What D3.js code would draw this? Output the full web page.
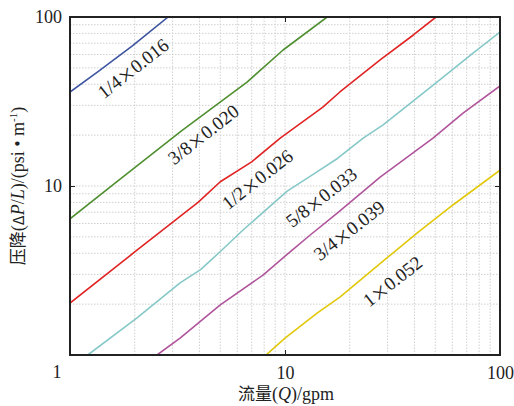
<!DOCTYPE html>
<html>
<head>
<meta charset="utf-8">
<script src="https://cdn.jsdelivr.net/npm/d3@7"></script>
<style>
  body { margin: 0; background: #fff; }
</style>
</head>
<body>
<div id="chart"></div>
<script>
// series names and their read-off curves (flow gpm, pressure drop psi/m)
var seriesNames = ["1/4", "3/8", "1/2", "5/8", "3/4", "1"];
var seriesFactor = ["0.016", "0.020", "0.026", "0.033", "0.039", "0.052"];
var seriesColors = ["#3d54a0", "#4f8f30", "#e02424", "#86c8c8", "#b0559c", "#e2c80a"];

var s14 = [[1, 36], [1.35, 47.5], [1.95, 67.5], [2.86, 100]];
var s38 = [[1, 6.4], [1.62, 10.4], [3.3, 21.2], [6.66, 41.2], [9.8, 63.8], [15.7, 100]];
var s12 = [[1, 2.03], [2, 4.07], [3.94, 8.0], [5, 10.6], [7, 13.9], [9.5, 19.2],
           [15, 29.3], [18, 36], [27.7, 55.7], [39.4, 78], [50.4, 100]];
var s58 = [[1.21, 1], [2.05, 1.66], [3.25, 2.67], [4.05, 3.2], [5.09, 4.18], [6.38, 5.49],
           [10.2, 9.3], [14.2, 12.2], [17.6, 14.6], [23.1, 19.2], [28.6, 23], [50.9, 41.2],
           [74.9, 61.2], [100, 81.5]];
var s34 = [[2.54, 1], [3.25, 1.26], [5, 1.98], [7.9, 2.97], [10.8, 4.18], [13.1, 5.13],
           [17.5, 6.92], [27.7, 11.3], [39.4, 15.7], [48.8, 19.2], [67.3, 27], [100, 39.1]];
var s1 = [[8.16, 1], [10, 1.26], [14.1, 1.77], [18, 2.2], [29.8, 3.75], [41.1, 5.27],
          [60.4, 7.72], [100, 12.4]];
var seriesValues = [s14, s38, s12, s58, s34, s1];

// where the curve labels sit, in data units
var labelAt = [[1.96, 49.9], [4.16, 20.3], [7.41, 11.0], [14.7, 8.61], [19.8, 5.49], [31.5, 2.74]];

var xTicks = [10, 100];
var yTicks = [10, 100];

var serif = "'Liberation Serif', 'Times New Roman', Times, serif";
var cjk = "'Noto Sans CJK SC', sans-serif";

// set the dimensions of the graph
var W = 514, H = 406;
var margin = {top: 17, right: 14, bottom: 51, left: 70};

var svg = d3.select("#chart")
  .append("svg")
  .attr("width", W)
  .attr("height", H);

var x = d3.scaleLog().domain([1, 100]).range([margin.left, W - margin.right]);
var y = d3.scaleLog().domain([1, 100]).range([H - margin.bottom, margin.top]);

svg.append("clipPath").attr("id", "clip")
  .append("rect")
  .attr("x", x(1)).attr("y", y(100))
  .attr("width", x(100) - x(1)).attr("height", y(1) - y(100));

// dotted grid at every 1..9 step of each decade
var gridVals = [];
[1, 10].forEach(function(dec) {
  for (var k = 1; k <= 9; k++) gridVals.push(dec * k);
});
gridVals = gridVals.filter(function(v) { return v > 1; });

svg.append("g")
  .selectAll("line")
  .data(gridVals)
  .enter().append("line")
    .attr("x1", function(d) { return x(d); })
    .attr("x2", function(d) { return x(d); })
    .attr("y1", y(1)).attr("y2", y(100))
    .attr("stroke", "#d0d0d0")
    .attr("stroke-width", 1)
    .attr("stroke-dasharray", "1.5,1.5");

svg.append("g")
  .selectAll("line")
  .data(gridVals)
  .enter().append("line")
    .attr("y1", function(d) { return y(d); })
    .attr("y2", function(d) { return y(d); })
    .attr("x1", x(1)).attr("x2", x(100))
    .attr("stroke", "#d0d0d0")
    .attr("stroke-width", 1)
    .attr("stroke-dasharray", "1.5,1.5");

// the curves
var line = d3.line()
  .x(function(d) { return x(d[0]); })
  .y(function(d) { return y(d[1]); });

svg.append("g")
  .attr("clip-path", "url(#clip)")
  .selectAll("path")
  .data(seriesValues)
  .enter().append("path")
    .attr("d", function(d) { return line(d); })
    .attr("fill", "none")
    .attr("stroke", function(d, i) { return seriesColors[i]; })
    .attr("stroke-width", 1.6)
    .attr("stroke-linejoin", "round");

// curve labels
var lab = svg.append("g")
  .selectAll("text")
  .data(seriesNames)
  .enter().append("text")
    .attr("transform", function(d, i) {
      return "translate(" + x(labelAt[i][0]) + "," + y(labelAt[i][1]) + ") rotate(-38)";
    })
    .attr("text-anchor", "middle")
    .attr("dominant-baseline", "central")
    .attr("font-family", serif)
    .attr("fill", "#222")
    .style("font-size", "19px");
lab.append("tspan").text(function(d) { return d; });
lab.append("tspan").attr("font-family", cjk).style("font-size", "17px").text("×");
lab.append("tspan").text(function(d, i) { return seriesFactor[i]; });

// axes with inward ticks
svg.append("g")
  .attr("transform", "translate(0," + y(1) + ")")
  .call(d3.axisBottom(x).tickValues(xTicks).tickSize(-5).tickPadding(11)
    .tickFormat(d3.format("d")));
svg.append("g")
  .attr("transform", "translate(" + x(1) + ",0)")
  .call(d3.axisLeft(y).tickValues(yTicks).tickSize(-5).tickPadding(8)
    .tickFormat(d3.format("d")));
svg.append("g")
  .attr("transform", "translate(0," + y(100) + ")")
  .call(d3.axisTop(x).tickValues(xTicks).tickSize(-5).tickFormat(""));
svg.append("g")
  .attr("transform", "translate(" + x(100) + ",0)")
  .call(d3.axisRight(y).tickValues(yTicks).tickSize(-5).tickFormat(""));

svg.selectAll(".domain").remove();
svg.selectAll(".tick line").attr("stroke", "#222").attr("stroke-width", 1);
svg.selectAll(".tick text")
  .attr("font-family", serif)
  .style("font-size", "18px")
  .attr("fill", "#222");

// the corner "1"
svg.append("text")
  .attr("x", x(1) - 13)
  .attr("y", y(1) + 23)
  .attr("text-anchor", "middle")
  .attr("font-family", serif)
  .attr("fill", "#222")
  .style("font-size", "18px")
  .text("1");

// frame
svg.append("rect")
  .attr("x", x(1)).attr("y", y(100))
  .attr("width", x(100) - x(1)).attr("height", y(1) - y(100))
  .attr("fill", "none")
  .attr("stroke", "#222")
  .attr("stroke-width", 2);

// axis titles
var xt = svg.append("text")
  .attr("x", (x(1) + x(100)) / 2 + 1)
  .attr("y", H - 6)
  .attr("text-anchor", "middle")
  .attr("font-family", serif)
  .attr("fill", "#222")
  .style("font-size", "18px");
xt.append("tspan").attr("font-family", cjk).style("font-size", "17px").text("流量");
xt.append("tspan").text("(");
xt.append("tspan").style("font-style", "italic").text("Q");
xt.append("tspan").text(")/gpm");

var yt = svg.append("text")
  .attr("transform", "translate(24," + ((y(1) + y(100)) / 2) + ") rotate(-90)")
  .attr("text-anchor", "middle")
  .attr("font-family", serif)
  .attr("fill", "#222")
  .style("font-size", "18px");
yt.append("tspan").attr("font-family", cjk).style("font-size", "17px").text("压降");
yt.append("tspan").text("(");
yt.append("tspan").attr("font-family", cjk).style("font-size", "15px").text("Δ");
yt.append("tspan").style("font-style", "italic").text("P");
yt.append("tspan").text("/");
yt.append("tspan").style("font-style", "italic").text("L");
yt.append("tspan").text(")/(psi • m");
yt.append("tspan").attr("dy", "-7").style("font-size", "11px").text("-1");
yt.append("tspan").attr("dy", "7").text(")");
</script>
</body>
</html>
